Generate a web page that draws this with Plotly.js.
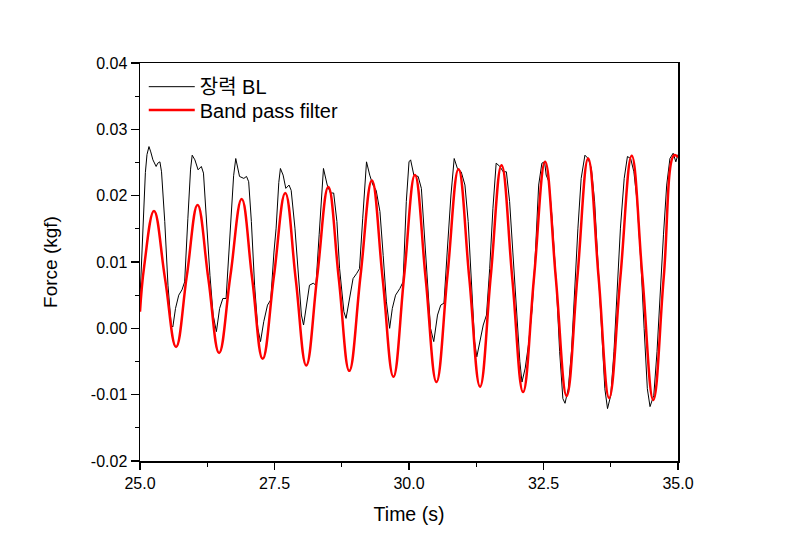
<!DOCTYPE html>
<html>
<head>
<meta charset="utf-8">
<script src="https://cdn.plot.ly/plotly-3.0.1.min.js"></script>
<style>html,body{margin:0;padding:0;background:#fff;}#chart{width:792px;height:556px;}</style>
</head>
<body>
<div id="chart"></div>
<script>
// Measured tension (black)
const measuredName = "장력 BL";
const measuredTime = [25.00,25.05,25.10,25.13,25.167,25.20,25.24,25.30,25.33,25.37,25.40,25.46,25.52,25.58,25.61,25.66,25.72,25.78,25.83,25.89,25.94,25.97,26.02,26.08,26.14,26.18,26.23,26.30,26.36,26.42,26.48,26.54,26.60,26.67,26.74,26.78,26.85,26.93,26.98,27.02,27.07,27.13,27.19,27.24,27.30,27.37,27.43,27.49,27.53,27.58,27.61,27.66,27.71,27.77,27.81,27.88,27.94,28.00,28.04,28.09,28.15,28.22,28.27,28.33,28.41,28.48,28.54,28.60,28.66,28.71,28.79,28.83,28.90,28.96,29.03,29.08,29.14,29.21,29.27,29.33,29.39,29.46,29.52,29.58,29.64,29.69,29.75,29.83,29.89,29.95,30.00,30.03,30.09,30.17,30.23,30.29,30.35,30.40,30.46,30.53,30.59,30.65,30.71,30.78,30.84,30.90,30.97,31.04,31.10,31.16,31.22,31.26,31.31,31.38,31.44,31.50,31.56,31.62,31.69,31.75,31.81,31.87,31.93,32.00,32.06,32.10,32.16,32.22,32.29,32.35,32.41,32.47,32.52,32.55,32.60,32.66,32.74,32.80,32.86,32.90,32.96,33.02,33.08,33.14,33.20,33.27,33.33,33.39,33.45,33.51,33.57,33.64,33.69,33.75,33.81,33.87,33.93,34.00,34.06,34.12,34.18,34.24,34.31,34.37,34.43,34.48,34.55,34.61,34.67,34.73,34.79,34.85,34.91,34.96,35.00];
const measuredForce = [0.0045,0.0150,0.0235,0.0262,0.0274,0.0266,0.0254,0.0244,0.0249,0.0251,0.0236,0.0161,0.0065,0.0005,0.0002,0.0030,0.0050,0.0058,0.0070,0.0166,0.0240,0.0261,0.0254,0.0239,0.0244,0.0234,0.0166,0.0080,0.0020,-0.0005,0.0030,0.0045,0.0045,0.0141,0.0230,0.0256,0.0229,0.0226,0.0229,0.0221,0.0161,0.0065,0.0000,-0.0020,0.0010,0.0035,0.0043,0.0115,0.0151,0.0220,0.0241,0.0231,0.0211,0.0216,0.0208,0.0151,0.0080,0.0020,0.0005,0.0035,0.0065,0.0068,0.0065,0.0141,0.0241,0.0216,0.0204,0.0204,0.0161,0.0090,0.0025,0.0015,0.0050,0.0075,0.0083,0.0090,0.0166,0.0251,0.0231,0.0216,0.0208,0.0176,0.0110,0.0040,0.0000,0.0030,0.0050,0.0060,0.0070,0.0191,0.0251,0.0254,0.0231,0.0229,0.0211,0.0130,0.0065,0.0000,-0.0020,0.0020,0.0035,0.0038,0.0115,0.0201,0.0256,0.0241,0.0236,0.0216,0.0161,0.0065,-0.0020,-0.0043,-0.0025,0.0005,0.0020,0.0090,0.0181,0.0249,0.0244,0.0236,0.0236,0.0191,0.0115,0.0030,-0.0050,-0.0081,-0.0060,-0.0025,0.0030,0.0115,0.0216,0.0249,0.0251,0.0231,0.0221,0.0166,0.0065,-0.0035,-0.0106,-0.0113,-0.0091,-0.0035,0.0060,0.0151,0.0226,0.0261,0.0256,0.0241,0.0191,0.0100,0.0000,-0.0091,-0.0121,-0.0101,-0.0035,0.0060,0.0151,0.0226,0.0259,0.0256,0.0236,0.0191,0.0100,0.0000,-0.0091,-0.0118,-0.0101,-0.0035,0.0060,0.0141,0.0216,0.0256,0.0264,0.0251,0.0262];

// Band pass filter (red)
const filterName = "Band pass filter";
const filterTime = [25.00,25.08,25.26,25.465,25.67,25.87,26.07,26.27,26.47,26.68,26.89,27.085,27.28,27.49,27.70,27.895,28.09,28.295,28.50,28.695,28.89,29.10,29.31,29.51,29.71,29.91,30.11,30.31,30.51,30.715,30.92,31.12,31.32,31.52,31.72,31.92,32.12,32.325,32.53,32.73,32.93,33.13,33.33,33.525,33.72,33.93,34.14,34.34,34.54,34.735,34.93,35.00];
const filterForce = [0.0025,0.0095,0.0177,0.0075,-0.0028,0.0079,0.0186,0.0075,-0.0037,0.0079,0.0195,0.0075,-0.0046,0.0079,0.0204,0.0074,-0.0056,0.0079,0.0213,0.0075,-0.0064,0.0080,0.0223,0.0075,-0.0073,0.0079,0.0231,0.0075,-0.0081,0.0080,0.0240,0.0076,-0.0088,0.0079,0.0246,0.0075,-0.0096,0.0078,0.0251,0.0075,-0.0102,0.0077,0.0256,0.0076,-0.0105,0.0078,0.0260,0.0076,-0.0108,0.0077,0.0261,0.0258];

const xTickVals = [25.0, 27.5, 30.0, 32.5, 35.0];
const xTickText = ["25.0", "27.5", "30.0", "32.5", "35.0"];
const yTickVals = [-0.02, -0.01, 0.00, 0.01, 0.02, 0.03, 0.04];
const yTickText = ["-0.02", "-0.01", "0.00", "0.01", "0.02", "0.03", "0.04"];

const FONT = "Liberation Sans, Arial, 'Noto Sans CJK KR', sans-serif";

const traces = [
  {x: measuredTime, y: measuredForce, name: measuredName, type: "scatter", mode: "lines",
   line: {color: "#000000", width: 1}, legend: "legend"},
  {x: filterTime, y: filterForce, name: filterName, type: "scatter", mode: "lines",
   line: {color: "#ff0000", width: 2.5, shape: "spline", smoothing: 1.2}, legend: "legend2"}
];

const legendBase = {xanchor: "left", yanchor: "middle", bgcolor: "rgba(0,0,0,0)",
  font: {family: FONT, size: 20, color: "#000"}, itemwidth: 46};

const layout = {
  width: 792, height: 556,
  margin: {l: 140, r: 114, t: 63, b: 95},
  paper_bgcolor: "#ffffff", plot_bgcolor: "#ffffff",
  font: {family: FONT, color: "#000000", size: 16},
  showlegend: true,
  legend: Object.assign({}, legendBase, {x: 0.007, y: 0.9405}),
  legend2: Object.assign({}, legendBase, {x: 0.007, y: 0.8819}),
  xaxis: {
    range: [25, 35], tickmode: "array", tickvals: xTickVals, ticktext: xTickText,
    ticks: "outside", ticklen: 7, tickwidth: 1.2, tickcolor: "#000",
    minor: {dtick: 1.25, tick0: 25, ticks: "outside", ticklen: 4, tickcolor: "#000", tickwidth: 1.2, showgrid: false},
    showline: true, linecolor: "#000", linewidth: 1.5, mirror: true,
    showgrid: false, zeroline: false,
    tickfont: {family: FONT, size: 16, color: "#000"},
    title: {text: "Time (s)", font: {family: FONT, size: 19.5, color: "#000"}, standoff: 16}
  },
  yaxis: {
    range: [-0.02, 0.04], tickmode: "array", tickvals: yTickVals, ticktext: yTickText,
    ticks: "outside", ticklen: 8, tickwidth: 1.2, tickcolor: "#000",
    minor: {dtick: 0.005, tick0: 0, ticks: "outside", ticklen: 4, tickcolor: "#000", tickwidth: 1.2, showgrid: false},
    showline: true, linecolor: "#000", linewidth: 1.5, mirror: true,
    showgrid: false, zeroline: false,
    tickfont: {family: FONT, size: 16, color: "#000"},
    title: {text: "Force (kgf)", font: {family: FONT, size: 19, color: "#000"}, standoff: 28}
  }
};

Plotly.newPlot("chart", traces, layout, {displayModeBar: false, staticPlot: true});
</script>
</body>
</html>
